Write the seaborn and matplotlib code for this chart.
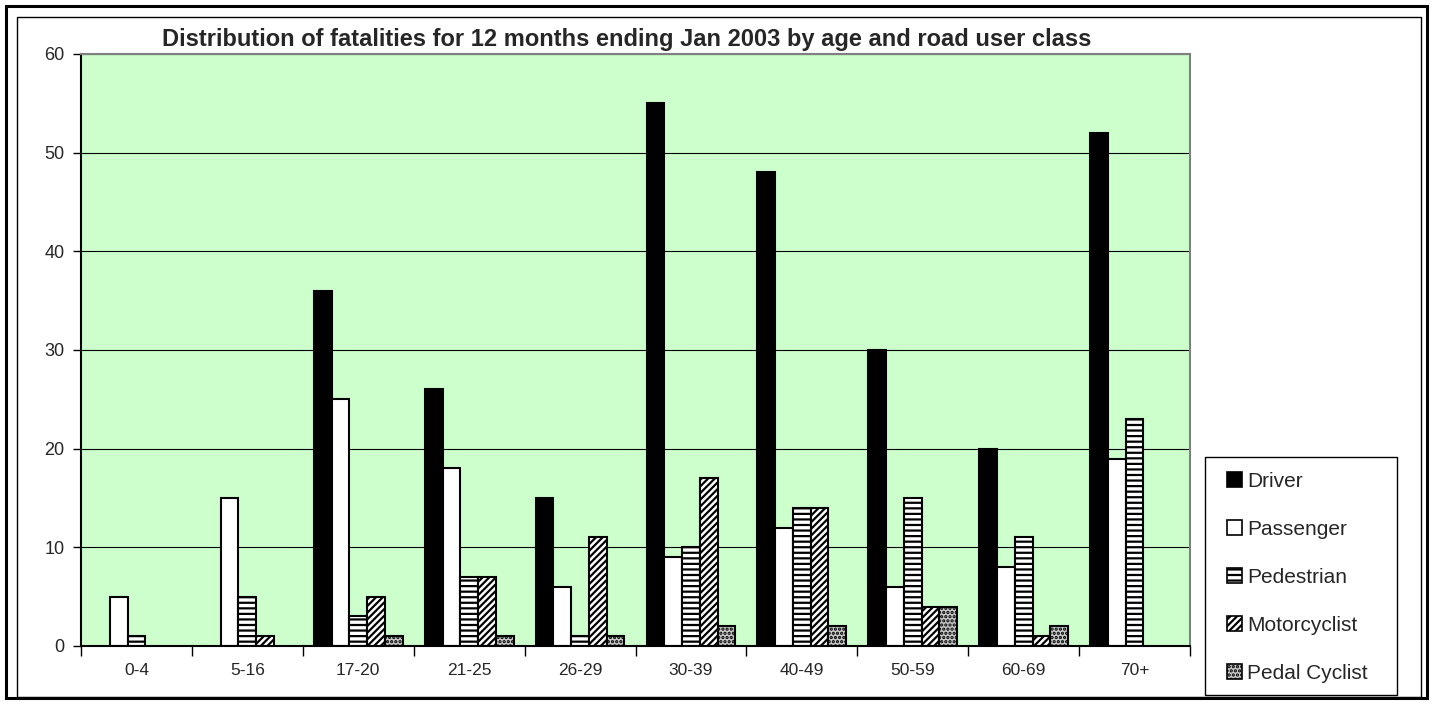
import pandas as pd
import matplotlib
matplotlib.use("Agg")
import matplotlib.pyplot as plt
import seaborn as sns
from matplotlib.patches import Rectangle

# data
ages = ["0-4", "5-16", "17-20", "21-25", "26-29", "30-39", "40-49", "50-59", "60-69", "70+"]
classes = ["Driver", "Passenger", "Pedestrian", "Motorcyclist", "Pedal Cyclist"]
driver = [0, 0, 36, 26, 15, 55, 48, 30, 20, 52]
passenger = [5, 15, 25, 18, 6, 9, 12, 6, 8, 19]
pedestrian = [1, 5, 3, 7, 1, 10, 14, 15, 11, 23]
motorcyclist = [0, 1, 5, 7, 11, 17, 14, 4, 1, 0]
pedal_cyclist = [0, 0, 1, 1, 1, 2, 2, 4, 2, 0]

series = [driver, passenger, pedestrian, motorcyclist, pedal_cyclist]
rows = []
for cls, vals in zip(classes, series):
    for age, v in zip(ages, vals):
        rows.append({"age": age, "class": cls, "value": v})
df = pd.DataFrame(rows)

colors = ["black", "white", "white", "white", "#c8c8c8"]
hatches = ["", "", "---", "/////", "...."]

W, H = 1436, 704

def fx(px):
    return px / W

def fy(py):
    return 1 - py / H

sns.set_style("white")
plt.rcParams["font.family"] = ["Liberation Sans", "DejaVu Sans"]
plt.rcParams["hatch.linewidth"] = 1.6

fig = plt.figure(figsize=(W / 100, H / 100), dpi=100)
ax = fig.add_axes([fx(81), fy(646), fx(1190 - 81), (646 - 54) / H])

sns.barplot(data=df, x="age", y="value", hue="class", hue_order=classes,
            palette=colors, width=0.8, ax=ax, legend=False)

for cont, h, c in zip(ax.containers, hatches, colors):
    for p in cont:
        p.set_edgecolor("black")
        p.set_linewidth(1.5)
        p.set_hatch(h)
        p.set_facecolor(c)
        if p.get_height() == 0:
            p.set_visible(False)

ax.set_facecolor("#ccffcc")
ax.set_ylim(0, 60)
ax.set_xlim(-0.5, len(ages) - 0.5)
ax.set_yticks(range(0, 61, 10))
ax.yaxis.grid(True, color="black", linewidth=0.8)
ax.set_axisbelow(True)
ax.set_xlabel("")
ax.set_ylabel("")
for s in ax.spines.values():
    s.set_color("#808080")
    s.set_linewidth(1.5)
ax.spines["bottom"].set_color("black")
ax.spines["left"].set_color("black")

ax.tick_params(axis="y", direction="out", length=6, width=1, labelsize=13, left=True, color="black", pad=6)
ax.tick_params(axis="x", which="major", length=0, labelsize=12.5, pad=12)
ax.set_xticks([i + 0.5 for i in range(len(ages) - 1)] + [-0.5, len(ages) - 0.5], minor=True)
ax.tick_params(axis="x", which="minor", direction="out", length=7, width=1, bottom=True, color="black")

fig.text(fx(627), fy(46), "Distribution of fatalities for 12 months ending Jan 2003 by age and road user class",
         ha="center", va="baseline", fontsize=17, fontweight="bold")

# legend
handles = [Rectangle((0, 0), 1, 1, facecolor=c, edgecolor="black", hatch=h, linewidth=1.2)
           for c, h in zip(colors, hatches)]
fig.legend(handles, classes, loc="upper left", bbox_to_anchor=(fx(1227), fy(472)),
           fontsize=15, frameon=False, handlelength=0.72, handleheight=0.72,
           handletextpad=0.25, labelspacing=1.39, borderpad=0, borderaxespad=0)
fig.patches.append(Rectangle((fx(1205), fy(695)), fx(1397 - 1205), (695 - 457) / H,
                             transform=fig.transFigure, fill=False, edgecolor="black", linewidth=1))

# chart area border and outer frame
fig.patches.append(Rectangle((fx(17), fy(697)), fx(1421 - 17), (697 - 17) / H,
                             transform=fig.transFigure, fill=False, edgecolor="black", linewidth=1))
fig.patches.append(Rectangle((fx(5.5), fy(697.5)), fx(1427 - 5.5), (697.5 - 5.5) / H,
                             transform=fig.transFigure, fill=False, edgecolor="black", linewidth=2.2))

fig.savefig("out.png", dpi=100)
